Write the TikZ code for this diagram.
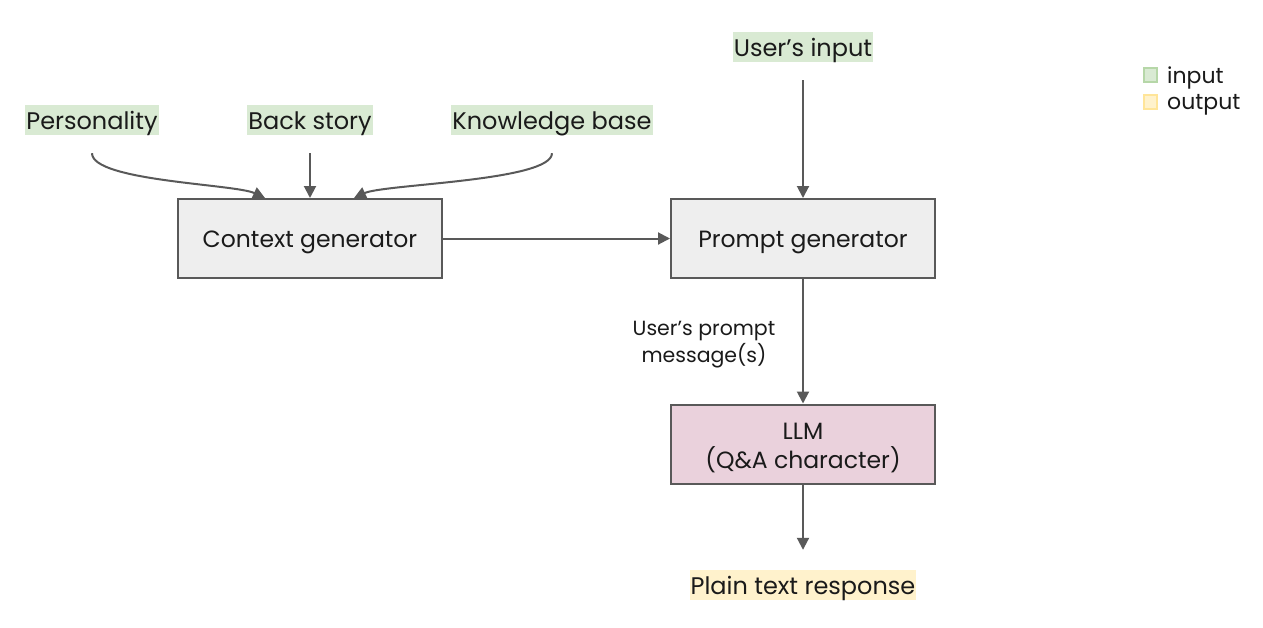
\documentclass[tikz,border=0pt]{standalone}
\usepackage{fontspec}
\setmainfont{Poppins}
\usetikzlibrary{arrows.meta,calc}
\definecolor{lineg}{HTML}{595959}
\definecolor{boxg}{HTML}{EEEEEE}
\definecolor{llmfill}{HTML}{EAD1DC}
\definecolor{ingreen}{HTML}{D9EAD3}
\definecolor{ingreenb}{HTML}{B6D7A8}
\definecolor{outyel}{HTML}{FFF2CC}
\definecolor{outyelb}{HTML}{FFE599}
\definecolor{txt}{HTML}{1A1A1A}
\tikzset{
  every node/.style={text=txt},
  hl/.style={inner xsep=1pt, inner ysep=0pt, minimum height=30pt, font=\fontsize{24}{26}\selectfont, text height=21pt, text depth=3pt},
  inbox/.style={hl, fill=ingreen},
  outbox/.style={hl, fill=outyel},
  procbox/.style={draw=lineg, line width=2pt, fill=boxg, minimum width=264pt, minimum height=79pt},
  boxtext/.style={yshift=-4pt, font=\fontsize{23.5}{29}\selectfont, align=center},
  conn/.style={draw=lineg, line width=2pt, -{Triangle[length=12pt,width=12pt]}},
  legsq/.style={minimum width=13pt, minimum height=14pt, inner sep=0pt, line width=1.5pt},
  legtxt/.style={anchor=west, font=\fontsize{22}{24}\selectfont, inner sep=0pt}
}
\begin{document}
\begin{tikzpicture}[x=1pt,y=-1pt]
\useasboundingbox (0,0) rectangle (1263,627);
% inputs
\node[inbox] (pers) at (92,120) {Personality};
\node[inbox] (back) at (310,120) {Back story};
\node[inbox] (know) at (552,120) {Knowledge base};
\node[inbox] (uin) at (803,47) {User’s input};
% boxes
\node[procbox, label={[boxtext]center:Context generator}] (ctx) at (310,238.5) {};
\node[procbox, label={[boxtext]center:Prompt generator}] (prm) at (803,238.5) {};
\node[procbox, fill=llmfill, label={[boxtext]center:LLM\\(Q\&A character)}] (llm) at (803,444) {};
% output
\node[outbox] (out) at (803,585) {Plain text response};
% label
\node[font=\fontsize{20.5}{27}\selectfont, align=center] (lab) at (704,345) {User’s prompt\\message(s)};
% connectors
\coordinate (ctxL) at ($(ctx.north)+(-45,0)$);
\coordinate (ctxR) at ($(ctx.north)+(44,0)$);
\draw[conn] ($(pers.south)+(0,18)$) .. controls +(0,28) and +(-30,-14) .. (ctxL);
\draw[conn] ($(back.south)+(0,18)$) -- (ctx.north);
\draw[conn] ($(know.south)+(0,18)$) .. controls +(0,28) and +(30,-14) .. (ctxR);
\draw[conn] (ctx.east) -- (prm.west);
\draw[conn] ($(uin.south)+(0,18)$) -- (prm.north);
\draw[conn] (prm.south) -- (llm.north);
\draw[conn] (llm.south) -- ($(out.north)+(0,-20)$);
% legend
\node[legsq, fill=ingreen, draw=ingreenb] (lgi) at (1150.5,75) {};
\node[legsq, fill=outyel, draw=outyelb] (lgo) at (1150.5,102) {};
\node[legtxt] (lgit) at (1167,78) {input};
\node[legtxt] (lgot) at (1167,105) {output};
\end{tikzpicture}
\end{document}
